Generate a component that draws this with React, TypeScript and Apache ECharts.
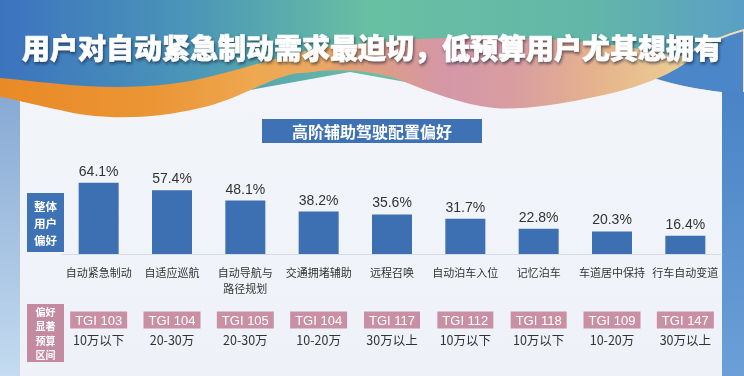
import React, { useEffect, useRef } from "react";
import * as echarts from "echarts";

const categories = ["自动紧急制动", "自适应巡航", "自动导航与\n路径规划", "交通拥堵辅助", "远程召唤", "自动泊车入位", "记忆泊车", "车道居中保持", "行车自动变道"];
const values = [64.1, 57.4, 48.1, 38.2, 35.6, 31.7, 22.8, 20.3, 16.4];
const tgi = [103, 104, 105, 104, 117, 112, 118, 109, 147];
const budgets = ["10万以下", "20-30万", "20-30万", "10-20万", "30万以上", "10万以下", "10万以下", "10-20万", "30万以上"];

const TITLE = "用户对自动紧急制动需求最迫切，低预算用户尤其想拥有";
const SUBTITLE = "高阶辅助驾驶配置偏好";
const OVERALL_LINES = ["整体", "用户", "偏好"];
const BUDGET_LINES = ["偏好", "显著", "预算", "区间"];

const FONT = "'Liberation Sans', 'Noto Sans CJK SC', sans-serif";
const CJK = "'Noto Sans CJK SC', sans-serif";

echarts.graphic.registerShape(
  "panelShape",
  echarts.graphic.extendPath("M20 376 L20 100 L250 90 L350 72 L450 90 L560 100 L651 78 C 680 86 700 90 722 92 L722 376 Z", {})
);
echarts.graphic.registerShape(
  "waveOrange",
  echarts.graphic.extendPath(
    "M0 78 C 50 82 100 92 170 84 C 220 78 260 60 330 46 L 365 46 C 345 62 330 72 300 73 C 270 76 240 100 200 108 C 150 120 100 120 60 110 C 30 104 10 98 0 97 Z",
    {}
  )
);
echarts.graphic.registerShape(
  "wavePink",
  echarts.graphic.extendPath(
    "M300 52 C 380 38 480 34 560 40 C 620 44 660 52 690 60 C 670 75 640 88 594 97 C 550 106 520 110 494 108 C 460 104 430 92 400 80 C 370 70 340 68 300 73 Z",
    {}
  )
);
echarts.graphic.registerShape(
  "blueCorner",
  echarts.graphic.extendPath("M648 80 C 672 60 708 40 744 30 L744 96 C 710 92 680 88 651 78 Z", {})
);

export default function App() {
  const ref = useRef<HTMLDivElement>(null);
  useEffect(() => {
    if (!ref.current) return;
    const chart = echarts.init(ref.current, null, { renderer: "svg" });
    const lg = (x2: number, y2: number, stops: [number, string][]) =>
      new echarts.graphic.LinearGradient(0, 0, x2, y2, stops.map(([offset, color]) => ({ offset, color })));

    const boxLines = (lines: string[], cx: number, top: number, step: number, size: number) =>
      lines.map((t, i) => ({
        type: "text",
        z: 11,
        x: cx,
        y: top + step * i + step / 2,
        style: { text: t, fill: "#fff", font: `bold ${size}px ${CJK}`, align: "center", verticalAlign: "middle" },
      }));

    chart.setOption({
      animation: false,
      grid: { left: 62, right: 22, top: 143, bottom: 122 },
      xAxis: [
        {
          type: "category",
          data: categories,
          axisLine: { show: true, lineStyle: { color: "#d6dce6", width: 1 } },
          axisTick: { show: false },
          axisLabel: { interval: 0, margin: 10, fontSize: 11, lineHeight: 16, color: "#333", fontFamily: CJK },
        },
        {
          type: "category",
          position: "bottom",
          offset: 0,
          data: budgets,
          axisLine: { show: false },
          axisTick: { show: false },
          axisLabel: {
            interval: 0,
            margin: 59,
            formatter: (v: string, i: number) => `{t|TGI ${tgi[i]}}\n{b|${v}}`,
            rich: {
              t: { backgroundColor: "#c98fa3", color: "#fff", fontSize: 13, lineHeight: 14, padding: [2, 5], fontFamily: FONT },
              b: { color: "#333", fontSize: 12.5, lineHeight: 24, fontFamily: CJK },
            },
          },
        },
      ],
      yAxis: { type: "value", min: 0, max: 100, show: false },
      series: [
        {
          type: "bar",
          data: values,
          barWidth: 40,
          z: 5,
          itemStyle: { color: "#3d70b3" },
          label: { show: true, position: "top", distance: 5, formatter: "{c}%", fontSize: 14, color: "#333", fontFamily: FONT },
        },
      ],
      graphic: [
        {
          type: "rect",
          z: -10,
          shape: { x: 0, y: 0, width: 744, height: 376 },
          style: {
            fill: lg(1, 0, [
              [0, "#3c73bf"],
              [0.25, "#4a95b8"],
              [0.5, "#68c0a2"],
              [0.8, "#62b6a9"],
              [1, "#5a9fc6"],
            ]),
          },
        },
        { type: "blueCorner", z: -9, style: { fill: "#4a86c8", stroke: "#f3dcb8", lineWidth: 2 } },
        {
          type: "panelShape",
          z: -9,
          style: { fill: lg(0, 1, [[0, "#f3f5fa"], [1, "#eef2f8"]]) },
        },
        {
          type: "rect",
          z: -9,
          shape: { x: 0, y: 95, width: 20, height: 281 },
          style: { fill: lg(0, 1, [[0, "#87a9d3"], [1, "#c4dbf0"]]) },
        },
        {
          type: "rect",
          z: -9,
          shape: { x: 722, y: 92, width: 22, height: 284 },
          style: { fill: lg(0, 1, [[0, "#4a84c6"], [1, "#6b9fd6"]]) },
        },
        {
          type: "wavePink",
          z: -8,
          style: {
            fill: lg(1, 0, [
              [0, "#e6a470"],
              [0.1, "#e3a072"],
              [0.38, "#d497a8"],
              [0.56, "#d99ea0"],
              [0.77, "#e6b48c"],
              [1, "#ecd095"],
            ]),
          },
        },
        {
          type: "waveOrange",
          z: -7,
          style: {
            fill: lg(1, 0, [
              [0, "#e98a26"],
              [0.42, "#eb9535"],
              [0.7, "#eea850"],
              [1, "#eaa870"],
            ]),
          },
        },
        {
          type: "text",
          z: 10,
          x: 372,
          y: 47,
          style: {
            text: TITLE,
            fill: "#ffffff",
            font: `900 28px ${CJK}`,
            align: "center",
            verticalAlign: "middle",
            stroke: "rgba(255,255,255,0.9)",
            lineWidth: 0.6,
            textShadowColor: "rgba(20,30,50,0.65)",
            textShadowBlur: 3,
            textShadowOffsetX: 1,
            textShadowOffsetY: 2,
          },
        },
        {
          type: "rect",
          z: 10,
          shape: { x: 262, y: 119, width: 220, height: 24 },
          style: { fill: "#3e72b5" },
        },
        {
          type: "text",
          z: 11,
          x: 372,
          y: 131,
          style: { text: SUBTITLE, fill: "#fff", font: `bold 16px ${CJK}`, align: "center", verticalAlign: "middle" },
        },
        {
          type: "rect",
          z: 10,
          shape: { x: 27, y: 193, width: 37, height: 59 },
          style: { fill: "#3e72b5" },
        },
        ...boxLines(OVERALL_LINES, 45.5, 197, 17, 11.5),
        {
          type: "rect",
          z: 10,
          shape: { x: 27, y: 304, width: 37, height: 58 },
          style: { fill: "#c48ba0" },
        },
        ...boxLines(BUDGET_LINES, 45.5, 304, 14.5, 10),
      ],
    });
    return () => chart.dispose();
  }, []);
  return <div ref={ref} style={{ position: "fixed", left: 0, top: 0, width: 744, height: 376 }} />;
}
